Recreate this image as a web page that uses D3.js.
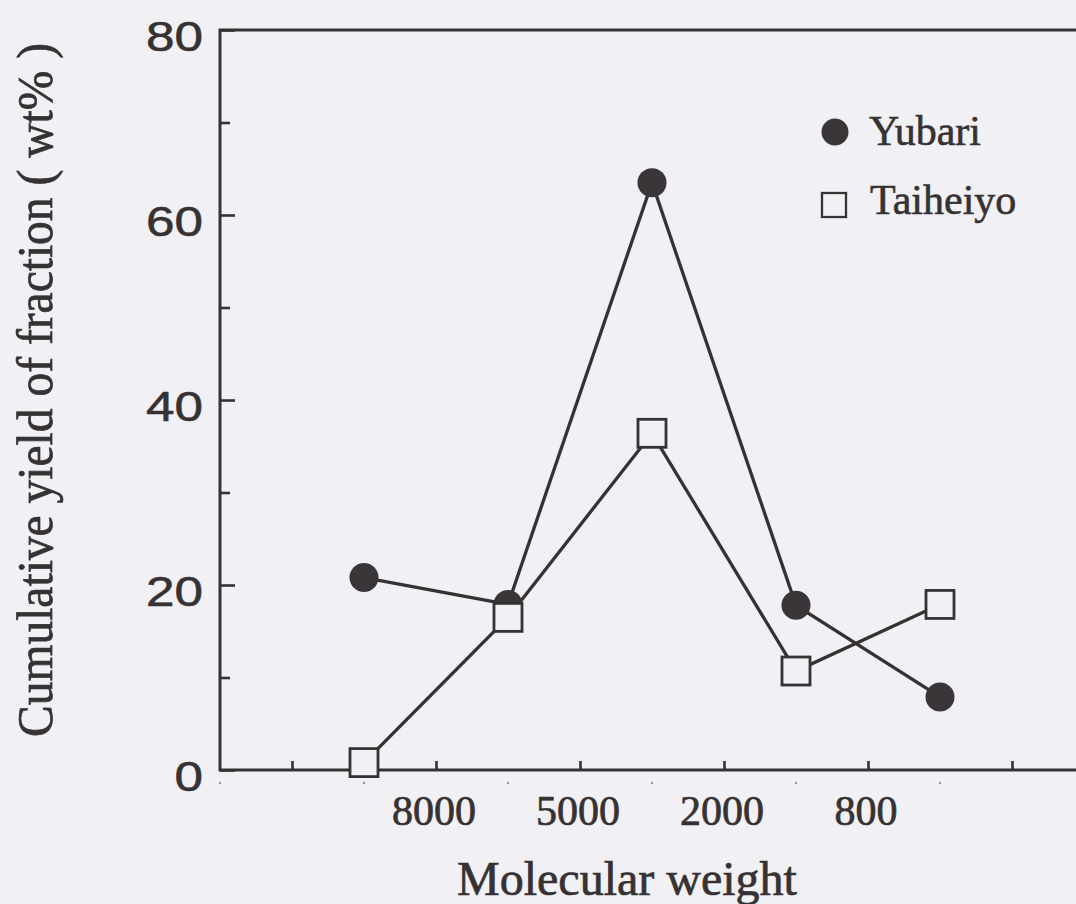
<!DOCTYPE html>
<html>
<head>
<meta charset="utf-8">
<script src="https://cdn.jsdelivr.net/npm/d3@7"></script>
<style>
  html, body { margin: 0; padding: 0; background: #f1f0f4; }
  svg { display: block; }
  text { paint-order: stroke; }
</style>
</head>
<body>
<svg id="chart" width="1076" height="904"></svg>
<script>
// Molecular-weight fractions (slot 1 = heaviest, slot 5 = lightest)
const fractions = [">8000", "8000-5000", "5000-2000", "2000-800", "<800"];
const fractionSlots = [1, 2, 3, 4, 5];

// Cumulative yield of each fraction (wt%)
const yubari   = [20.8, 17.9, 63.5, 17.8, 7.9];
const taiheiyo = [0.8, 16.5, 36.4, 10.7, 17.9];

// Boundary labels between neighbouring fractions
const boundaryLabels = ["8000", "5000", "2000", "800"];
const boundarySlots  = [1.5, 2.5, 3.5, 4.5];
const xTickSlots     = [0.5, 1.5, 2.5, 3.5, 4.5, 5.5];

const yMajorTicks = [0, 20, 40, 60, 80];
const yMinorTicks = [10, 30, 50, 70];

const ink = "#363233";
const bg = "#f1f0f4";
const serif = "'Liberation Serif', 'Times New Roman', serif";

const svg = d3.select("#chart");

const x = d3.scaleLinear().domain([0, 6]).range([220, 1084]);
const y = d3.scaleLinear().domain([0, 80]).range([770, 30]);

// Frame: left axis, bottom axis, top border (right edge lies beyond the view)
svg.append("path")
  .attr("d", `M${x(6)},${y(80)} H${x(0)} V${y(0)} H${x(6)}`)
  .attr("fill", "none")
  .attr("stroke", ink)
  .attr("stroke-width", 3);

// Left axis ticks (pointing inwards)
const gy = svg.append("g")
  .attr("transform", `translate(${x(0)},0)`)
  .call(d3.axisRight(y).tickValues(yMajorTicks).tickSize(15).tickFormat(""));
gy.select(".domain").remove();
gy.selectAll(".tick line").attr("stroke", ink).attr("stroke-width", 2.6);

const gyMinor = svg.append("g")
  .attr("transform", `translate(${x(0)},0)`)
  .call(d3.axisRight(y).tickValues(yMinorTicks).tickSize(10).tickFormat(""));
gyMinor.select(".domain").remove();
gyMinor.selectAll(".tick line").attr("stroke", ink).attr("stroke-width", 2.6);

// Left axis labels
svg.append("g").selectAll("text")
  .data(yMajorTicks)
  .join("text")
  .attr("x", 203)
  .attr("y", d => y(d) + 21)
  .attr("text-anchor", "end")
  .attr("font-family", "'Liberation Sans', Arial, sans-serif")
  .attr("font-size", 43)
  .attr("fill", ink)
  .attr("stroke", ink)
  .attr("stroke-width", 0.6)
  .attr("textLength", d => String(d).length * 28.5)
  .attr("lengthAdjust", "spacingAndGlyphs")
  .text(d => d);

// Bottom axis ticks (pointing inwards)
const gx = svg.append("g")
  .attr("transform", `translate(0,${y(0)})`)
  .call(d3.axisTop(x).tickValues(xTickSlots).tickSize(9).tickFormat(""));
gx.select(".domain").remove();
gx.selectAll(".tick line").attr("stroke", ink).attr("stroke-width", 2.6);

// Small guide dots under the axis at each fraction slot
svg.append("g").selectAll("circle")
  .data(d3.range(0, 7))
  .join("circle")
  .attr("cx", d => x(d))
  .attr("cy", y(0) + 13)
  .attr("r", 1.2)
  .attr("fill", "#9a9699");

// Bottom axis labels (fraction boundaries)
svg.append("g").selectAll("text")
  .data(boundaryLabels)
  .join("text")
  .attr("x", (d, i) => x(boundarySlots[i]) - 2)
  .attr("y", 825)
  .attr("text-anchor", "middle")
  .attr("font-family", serif)
  .attr("font-size", 42)
  .attr("fill", ink)
  .attr("stroke", ink)
  .attr("stroke-width", 0.7)
  .text(d => d);

// Axis titles
svg.append("text")
  .attr("x", 627)
  .attr("y", 895)
  .attr("text-anchor", "middle")
  .attr("font-family", serif)
  .attr("font-size", 48)
  .attr("fill", ink)
  .attr("stroke", ink)
  .attr("stroke-width", 0.7)
  .text("Molecular weight");

svg.append("text")
  .attr("transform", "translate(52,390) rotate(-90)")
  .attr("text-anchor", "middle")
  .attr("font-family", serif)
  .attr("font-size", 50)
  .attr("fill", ink)
  .attr("stroke", ink)
  .attr("stroke-width", 0.7)
  .attr("textLength", 694)
  .attr("lengthAdjust", "spacingAndGlyphs")
  .text("Cumulative yield of fraction ( wt% )");

// Series lines
const line = d3.line()
  .x((d, i) => x(fractionSlots[i]))
  .y(d => y(d));

[yubari, taiheiyo].forEach(series => {
  svg.append("path")
    .datum(series)
    .attr("d", line)
    .attr("fill", "none")
    .attr("stroke", ink)
    .attr("stroke-width", 3.3);
});

// Yubari markers: filled circles
svg.append("g").selectAll("circle")
  .data(yubari)
  .join("circle")
  .attr("cx", (d, i) => x(fractionSlots[i]))
  .attr("cy", d => y(d))
  .attr("r", 14.5)
  .attr("fill", "#3a3538");

// Taiheiyo markers: open squares
const sq = 28;
svg.append("g").selectAll("rect")
  .data(taiheiyo)
  .join("rect")
  .attr("x", (d, i) => x(fractionSlots[i]) - sq / 2)
  .attr("y", d => y(d) - sq / 2)
  .attr("width", sq)
  .attr("height", sq)
  .attr("fill", bg)
  .attr("stroke", ink)
  .attr("stroke-width", 2.8);

// Legend
const legend = svg.append("g");
legend.append("circle")
  .attr("cx", 835).attr("cy", 132).attr("r", 13.5)
  .attr("fill", "#3a3538");
legend.append("text")
  .attr("x", 869).attr("y", 145)
  .attr("font-family", serif)
  .attr("font-size", 42)
  .attr("fill", ink)
  .attr("stroke", ink)
  .attr("stroke-width", 0.6)
  .text("Yubari");
legend.append("rect")
  .attr("x", 822).attr("y", 193).attr("width", 24).attr("height", 24)
  .attr("fill", bg)
  .attr("stroke", ink)
  .attr("stroke-width", 2.3);
legend.append("text")
  .attr("x", 870).attr("y", 214)
  .attr("font-family", serif)
  .attr("font-size", 42)
  .attr("fill", ink)
  .attr("stroke", ink)
  .attr("stroke-width", 0.6)
  .text("Taiheiyo");
</script>
</body>
</html>
